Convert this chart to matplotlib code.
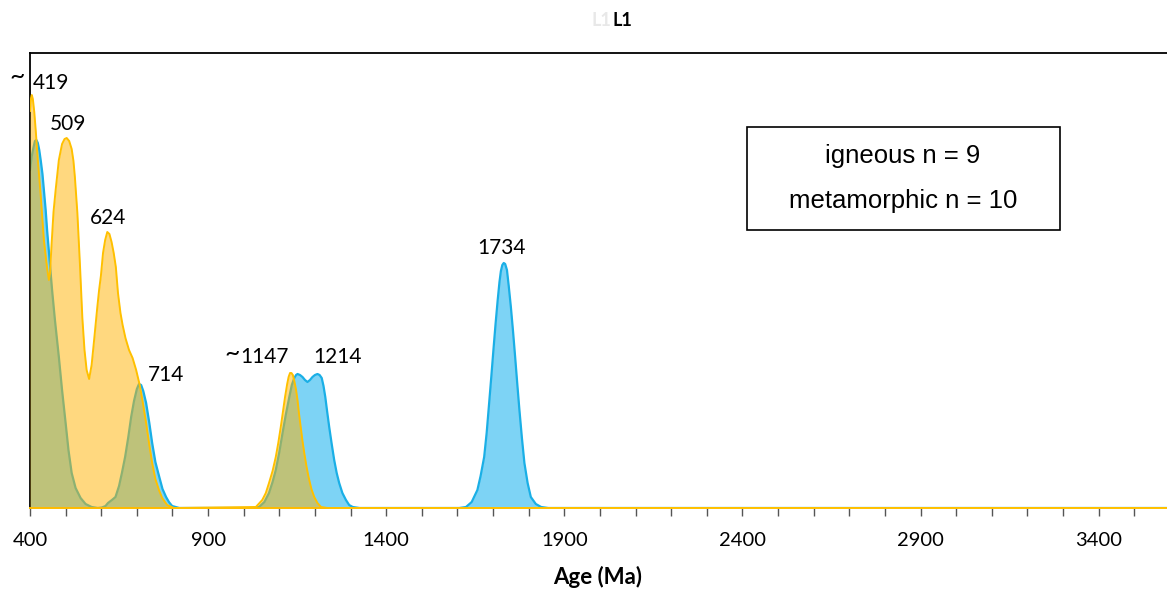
import matplotlib
matplotlib.use("Agg")
import matplotlib.pyplot as plt
from matplotlib.patches import Rectangle

# igneous (yellow) age density curve
ign_age = [400, 403, 405, 408, 412, 416, 422, 430, 439, 448, 453, 456, 460, 466,
           472, 481, 490, 497, 503, 510, 517, 522, 526, 533, 540, 547, 553, 559,
           566, 573, 580, 589, 594, 599, 605, 611, 617, 623, 629, 635, 641, 647,
           654, 660, 668, 678, 688, 698, 708, 716, 726, 735, 743, 752, 762, 771,
           785, 804,
           1034, 1052, 1062, 1071, 1081, 1090, 1097, 1104, 1110, 1116, 1122,
           1126, 1130, 1134, 1138, 1142, 1147, 1151, 1155, 1160, 1165, 1170,
           1176, 1182, 1190, 1198, 1207, 1217, 1235, 3600]
ign_den = [397, 410, 413, 409, 396, 378, 348, 313, 268, 240, 228, 234, 260, 296,
           318, 348, 364, 369, 370, 367, 359, 347, 331, 295, 245, 190, 158, 138,
           129, 143, 168, 201, 218, 232, 255, 268, 276, 274, 266, 255, 241, 215,
           195, 183, 170, 158, 150, 138, 123, 107, 85, 63, 45, 29, 18, 10,
           3, 0,
           1, 8, 15, 25, 37, 51, 65, 81, 96, 111, 124,
           131, 135, 135, 133, 127, 118, 108, 95, 81, 67, 55,
           42, 31, 19, 11, 5, 1, 0, 0]

# metamorphic (blue) age density curve
met_age = [400, 405, 410, 414, 418, 422, 426, 430, 435, 439, 444, 448, 453, 458,
           462, 470, 481, 490, 500, 508, 517, 528, 542, 556, 573, 590, 602, 612,
           619, 630, 640, 650, 658, 667, 676, 684, 692, 700, 706, 712, 718, 726,
           735, 743, 752, 763, 772, 782, 790, 799, 819,
           1025, 1043, 1058, 1071, 1081, 1090, 1100, 1109, 1118, 1128, 1135,
           1142, 1147, 1151, 1158, 1165, 1172, 1179, 1186, 1193, 1200, 1207,
           1213, 1219, 1224, 1229, 1234, 1240, 1247, 1254, 1261, 1268, 1277,
           1287, 1296, 1306, 1325,
           1605, 1624, 1640, 1656, 1665, 1675, 1682, 1689, 1695, 1701, 1707,
           1713, 1718, 1722, 1726, 1730, 1734, 1739, 1744, 1750, 1756, 1762,
           1768, 1774, 1781, 1788, 1797, 1806, 1820, 1835, 1855, 3600]
met_den = [338, 352, 361, 367, 368, 365, 358, 348, 334, 318, 298, 278, 257, 235,
           218, 188, 151, 118, 85, 58, 35, 20, 10, 4, 1, 0, 0.5, 2,
           5, 8, 11, 22, 35, 51, 71, 91, 107, 119, 124, 123, 117, 105,
           85, 65, 46, 31, 19, 11, 6, 2, 0,
           0, 1, 6, 15, 26, 38, 56, 75, 93, 111, 123,
           130, 133, 134, 133, 131, 128, 126, 128, 131, 133, 134,
           133, 130, 122, 111, 97, 81, 64, 48, 35, 25, 15,
           8, 3, 1, 0,
           0, 1, 6, 18, 32, 51, 75, 105, 131, 158, 184,
           208, 226, 237, 243, 245, 244, 238, 222, 201, 177, 151,
           124, 98, 70, 45, 25, 11, 4, 1, 0, 0]

tick_pos = [400, 900, 1400, 1900, 2400, 2900, 3400]
tick_lab = ["400", "900", "1400", "1900", "2400", "2900", "3400"]
minor_pos = list(range(400, 3600, 100))

peak_lab = ["~", "419", "509", "624", "714", "~", "1147", "1214", "1734"]
peak_x = [363, 459, 507, 619, 782, 968, 1057, 1262, 1723]
peak_y = [432, 425, 384, 290, 133, 155, 151, 151, 260]

legend_lines = ["igneous n = 9", "metamorphic n = 10"]

fig = plt.figure(figsize=(11.67, 5.90), dpi=100)
ax = fig.add_axes([30 / 1167, 1 - 508 / 590, 1 - 30 / 1167, 455 / 590])

blue_fill = "#7DD3F5"
blue_line = "#1AAFE6"
yel_fill = "#FFB300"
yel_line = "#FFC000"

ax.fill_between(met_age, 0, met_den, color=blue_fill, lw=0, zorder=1)
ax.plot(met_age, met_den, color=blue_line, lw=1.6, zorder=2)
ax.fill_between(ign_age, 0, ign_den, color=yel_fill, alpha=0.5, lw=0, zorder=3)
ax.plot(ign_age, ign_den, color=yel_line, lw=1.4, zorder=4)

ax.set_xlim(400, 3592)
ax.set_ylim(0, 455)
ax.set_yticks([])

ax.spines["right"].set_visible(False)
ax.spines["bottom"].set_color(yel_line)
ax.spines["bottom"].set_linewidth(1.4)
ax.spines["left"].set_linewidth(1.3)
ax.spines["top"].set_linewidth(1.3)

ax.set_xticks(tick_pos)
ax.set_xticklabels(tick_lab, fontfamily="Lato", fontsize=14.5)
ax.set_xticks(minor_pos, minor=True)
ax.tick_params(axis="x", which="both", direction="out", length=5.5,
               width=1, color="#555555", pad=12)

for lab, px, py in zip(peak_lab, peak_x, peak_y):
    ax.text(px, py, lab, ha="center", va="center", fontfamily="Lato",
            fontsize=19 if lab == "~" else 15, clip_on=False, zorder=6)

# legend box
fig.patches.append(Rectangle((747 / 1167, 1 - 230 / 590), 313 / 1167, 103 / 590,
                             transform=fig.transFigure, fill=True, facecolor="white",
                             edgecolor="black", lw=1.2, zorder=5))
fig.text(903 / 1167, 1 - 156 / 590, legend_lines[0], ha="center", va="center",
         fontfamily="Liberation Sans", fontsize=18.5, zorder=6)
fig.text(903 / 1167, 1 - 201 / 590, legend_lines[1], ha="center", va="center",
         fontfamily="Liberation Sans", fontsize=18.5, zorder=6)

# title
fig.text(601 / 1167, 1 - 20 / 590, "L1", ha="center", va="center",
         fontfamily="Lato", fontsize=13, fontweight="bold", color="#e8e8e8")
fig.text(622 / 1167, 1 - 20 / 590, "L1", ha="center", va="center",
         fontfamily="Lato", fontsize=13, fontweight="bold")

fig.text(598 / 1167, 1 - 577 / 590, "Age (Ma)", ha="center", va="center",
         fontfamily="Lato", fontsize=16, fontweight="bold")

fig.savefig("out.png", dpi=100)
